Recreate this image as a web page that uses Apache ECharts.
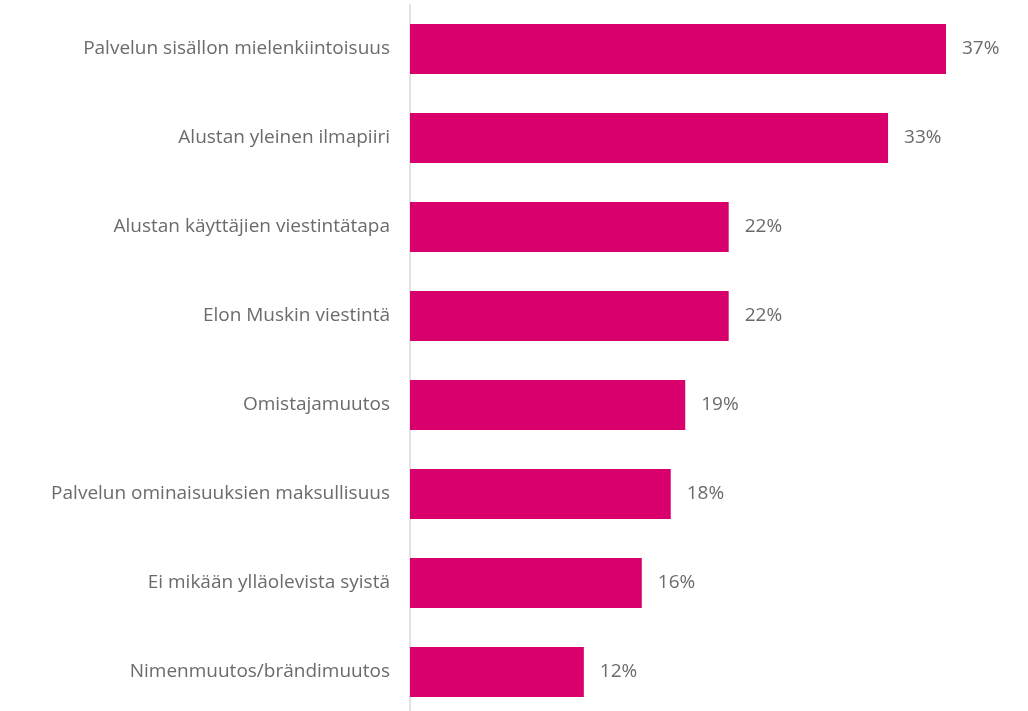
<!DOCTYPE html>
<html>
<head>
<meta charset="utf-8">
<script src="https://cdn.jsdelivr.net/npm/echarts@6/dist/echarts.min.js"></script>
<style>
	html, body { margin: 0; padding: 0; background: #fff; }
	#chart { width: 1028px; height: 711px; }
</style>
</head>
<body>
<div id="chart"></div>
<script>
	// kategoriat (ylhäältä alas)
	const categories = [
		'Palvelun sisällon mielenkiintoisuus',
		'Alustan yleinen ilmapiiri',
		'Alustan käyttäjien viestintätapa',
		'Elon Muskin viestintä',
		'Omistajamuutos',
		'Palvelun ominaisuuksien maksullisuus',
		'Ei mikään ylläolevista syistä',
		'Nimenmuutos/brändimuutos'
	];
	// osuudet, %
	const values = [37, 33, 22, 22, 19, 18, 16, 12];

	const font = '"Open Sans", "Noto Sans", sans-serif';

	const chart = echarts.init(document.getElementById('chart'));
	chart.setOption({
		animation: false,
		grid: {
			left: 410,
			width: 536,
			top: 4.5,
			height: 712,
			outerBoundsMode: 'none'
		},
		xAxis: {
			type: 'value',
			min: 0,
			max: 37,
			show: false
		},
		yAxis: {
			type: 'category',
			inverse: true,
			data: categories,
			axisTick: { show: false },
			axisLine: {
				lineStyle: { color: '#d9d9d9', width: 1.5 }
			},
			axisLabel: {
				color: '#6b6b6b',
				fontSize: 19,
				fontFamily: font,
				margin: 20
			}
		},
		series: [{
			type: 'bar',
			data: values,
			barWidth: 50,
			itemStyle: { color: '#d9006e' },
			label: {
				show: true,
				position: 'right',
				distance: 16,
				formatter: '{c}%',
				color: '#6b6b6b',
				fontSize: 19,
				fontFamily: font
			}
		}]
	});
</script>
</body>
</html>
